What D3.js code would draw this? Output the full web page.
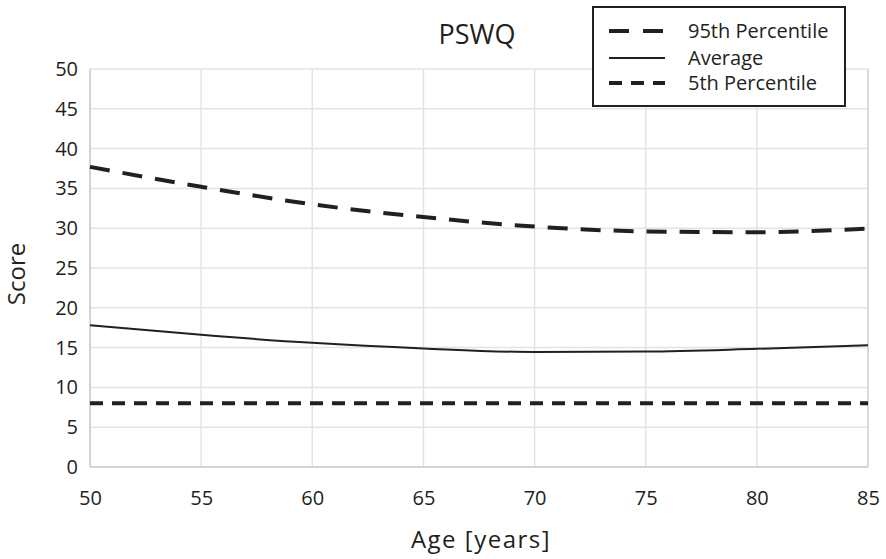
<!DOCTYPE html>
<html><head><meta charset="utf-8">
<script src="https://cdn.jsdelivr.net/npm/d3@7"></script>
<style>body{margin:0;background:#fff}svg{display:block}text{font-family:"Open Sans","Noto Sans",sans-serif;fill:#231f20}</style>
</head><body><svg id="c" width="886" height="559"></svg>
<script>
const ages = [50, 55, 60, 65, 70, 75, 80, 85];
const p95 = [37.7, 35.2, 33.0, 31.4, 30.2, 29.6, 29.5, 29.95];
const avg = [17.8, 16.6, 15.6, 14.9, 14.45, 14.5, 14.85, 15.3];
const p5 = [8.0, 8.0, 8.0, 8.0, 8.0, 8.0, 8.0, 8.0];
const xTicks = [50, 55, 60, 65, 70, 75, 80, 85];
const yTicks = [0, 5, 10, 15, 20, 25, 30, 35, 40, 45, 50];
const seriesNames = ["95th Percentile", "Average", "5th Percentile"];
const title = "PSWQ", xTitle = "Age [years]", yTitle = "Score";

const FONT = "'Open Sans','Noto Sans',sans-serif";
const svg = d3.select("#c");
const L = 90, R = 868, T = 69, B = 467;
const x = d3.scaleLinear().domain([50, 85]).range([L, R]);
const y = d3.scaleLinear().domain([0, 50]).range([B, T]);

const g = svg.append("g");
g.selectAll(".vg").data(xTicks).join("line")
  .attr("x1", d => x(d)).attr("x2", d => x(d)).attr("y1", T).attr("y2", B)
  .attr("stroke", "#e3e3e5").attr("stroke-width", 1.5);
g.selectAll(".hg").data(yTicks).join("line")
  .attr("x1", L).attr("x2", R).attr("y1", d => y(d)).attr("y2", d => y(d))
  .attr("stroke", "#e3e3e5").attr("stroke-width", 1.5);
g.append("line").attr("x1", L).attr("x2", L).attr("y1", T).attr("y2", B).attr("stroke", "#d4d4d6").attr("stroke-width", 2);
g.append("line").attr("x1", L).attr("x2", R).attr("y1", B).attr("y2", B).attr("stroke", "#d4d4d6").attr("stroke-width", 2);
g.append("line").attr("x1", R).attr("x2", R).attr("y1", T).attr("y2", B).attr("stroke", "#d4d4d6").attr("stroke-width", 1.5);

const xa = svg.append("g").attr("transform", `translate(0,${B})`)
  .call(d3.axisBottom(x).tickValues(xTicks).tickSize(0).tickPadding(24).tickFormat(d3.format("d")));
xa.select(".domain").remove();
xa.selectAll("text").attr("font-size", 20).attr("fill", "#231f20").style("font-family", FONT);
const ya = svg.append("g").attr("transform", `translate(${L},0)`)
  .call(d3.axisLeft(y).tickValues(yTicks).tickSize(0).tickPadding(12).tickFormat(d3.format("d")));
ya.select(".domain").remove();
ya.selectAll("text").attr("font-size", 20).attr("fill", "#231f20").style("font-family", FONT);

const line = d3.line().x((d, i) => x(ages[i])).y(d => y(d)).curve(d3.curveMonotoneX);
const styles = [
  {data: p95, w: 4, dash: "20,13"},
  {data: avg, w: 2, dash: null},
  {data: p5, w: 4, dash: "13,9"}
];
styles.forEach(s => {
  svg.append("path").attr("d", line(s.data)).attr("fill", "none")
    .attr("stroke", "#231f20").attr("stroke-width", s.w)
    .attr("stroke-dasharray", s.dash);
});

svg.append("text").attr("x", 477).attr("y", 44).attr("text-anchor", "middle").attr("font-size", 27).text(title);
svg.append("text").attr("x", 481).attr("y", 548).attr("text-anchor", "middle").attr("font-size", 24).attr("letter-spacing", 1.5).text(xTitle);
svg.append("text").attr("transform", "translate(25,274) rotate(-90)").attr("text-anchor", "middle").attr("font-size", 24).text(yTitle);

const lg = svg.append("g");
lg.append("rect").attr("x", 593).attr("y", 7).attr("width", 252).attr("height", 99)
  .attr("fill", "#fff").attr("stroke", "#231f20").attr("stroke-width", 2);
const rowsY = [31, 58, 83];
styles.forEach((s, i) => {
  lg.append("line").attr("x1", 609).attr("x2", 665).attr("y1", rowsY[i]).attr("y2", rowsY[i])
    .attr("stroke", "#231f20").attr("stroke-width", s.w)
    .attr("stroke-dasharray", i === 0 ? "20,14" : (i === 2 ? "13,9" : null));
  lg.append("text").attr("x", 688).attr("y", rowsY[i]).attr("dy", "0.35em").attr("font-size", 20).text(seriesNames[i]);
});
</script></body></html>
